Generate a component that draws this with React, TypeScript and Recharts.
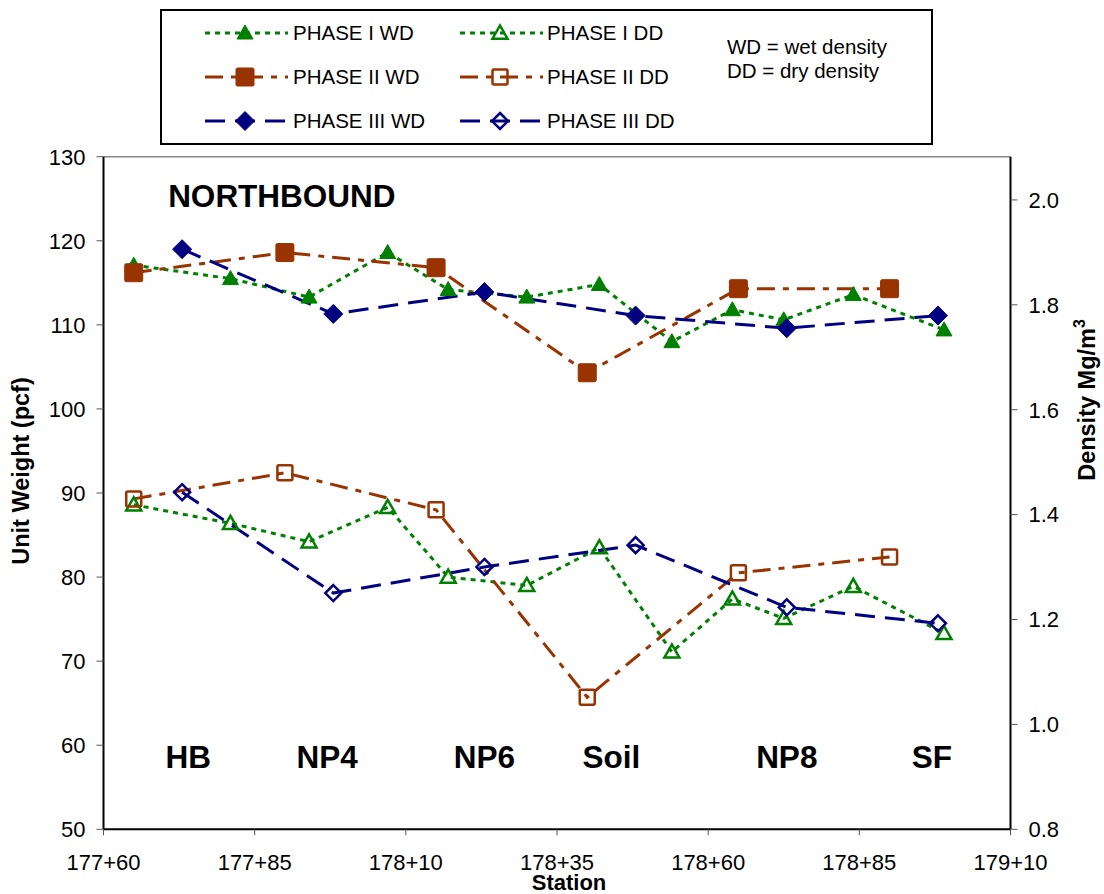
import { LineChart, Line, XAxis, YAxis, ReferenceLine, ReferenceDot, Label } from 'recharts';

// stations in feet (177+60 = 17760)
const STATIONS_I = [17765, 17781, 17794, 17807, 17817, 17830, 17842, 17854, 17864, 17872.5, 17884, 17899];
const PHASE1_WD = [117.1, 115.5, 113.3, 118.6, 114.2, 113.3, 114.8, 108.0, 111.8, 110.6, 113.6, 109.4];
const PHASE1_DD = [88.6, 86.4, 84.2, 88.3, 80.0, 79.0, 83.5, 71.1, 77.4, 75.1, 78.9, 73.3];

const STATIONS_II = [17765, 17790, 17815, 17840, 17865, 17890];
const PHASE2_WD = [116.2, 118.6, 116.8, 104.3, 114.3, 114.3];
const PHASE2_DD = [89.3, 92.4, 88.0, 65.7, 80.5, 82.4];

const STATIONS_III = [17773, 17798, 17823, 17848, 17873, 17898];
const PHASE3_WD = [119.0, 111.3, 113.9, 111.1, 109.6, 111.1];
const PHASE3_DD = [90.1, 78.1, 81.2, 83.8, 76.4, 74.5];

const X_TICKS = [17760, 17785, 17810, 17835, 17860, 17885, 17910];
const Y_TICKS = [50, 60, 70, 80, 90, 100, 110, 120, 130];
const DENSITY_TICKS = [0.8, 1.0, 1.2, 1.4, 1.6, 1.8, 2.0];
const PCF_PER_MGM3 = 62.428;

const ZONE_NAMES = ['HB', 'NP4', 'NP6', 'Soil', 'NP8', 'SF'];
const ZONE_STATIONS = [17774, 17797, 17823, 17844, 17873, 17897];

const GREEN = '#008000';
const BROWN = '#993300';
const NAVY = '#000080';
const FONT = 'Liberation Sans, Arial, sans-serif';

const DASH_I = '5 5';
const DASH_II = '18 8 6 8';
const DASH_III = '20 10';

type Kind = 'tri' | 'sq' | 'dia';

function Marker({ kind, filled, color, cx, cy }: { kind: Kind; filled: boolean; color: string; cx: number; cy: number }) {
  const fill = filled ? color : 'none';
  const sw = filled ? 1 : 2.5;
  if (kind === 'tri') {
    const s = filled ? 8 : 7.5;
    return <polygon points={`${cx},${cy - s} ${cx + s},${cy + s * 0.75} ${cx - s},${cy + s * 0.75}`} fill={fill} stroke={color} strokeWidth={sw} />;
  }
  if (kind === 'sq') {
    const s = filled ? 9 : 7.5;
    return <rect x={cx - s} y={cy - s} width={s * 2} height={s * 2} rx={1.5} fill={fill} stroke={color} strokeWidth={sw} />;
  }
  const s = filled ? 9.5 : 8;
  return <polygon points={`${cx},${cy - s} ${cx + s},${cy} ${cx},${cy + s} ${cx - s},${cy}`} fill={fill} stroke={color} strokeWidth={sw} />;
}

const dotFor = (kind: Kind, filled: boolean, color: string) => (p: any) => (
  <Marker key={`${kind}-${filled}-${p.index}`} kind={kind} filled={filled} color={color} cx={p.cx} cy={p.cy} />
);

const toRows = (xs: number[], ys: number[]) => xs.map((x, i) => ({ station: x, value: ys[i] }));

const SERIES = [
  { name: 'PHASE I WD', data: toRows(STATIONS_I, PHASE1_WD), color: GREEN, dash: DASH_I, kind: 'tri' as Kind, filled: true },
  { name: 'PHASE I DD', data: toRows(STATIONS_I, PHASE1_DD), color: GREEN, dash: DASH_I, kind: 'tri' as Kind, filled: false },
  { name: 'PHASE II WD', data: toRows(STATIONS_II, PHASE2_WD), color: BROWN, dash: DASH_II, kind: 'sq' as Kind, filled: true },
  { name: 'PHASE II DD', data: toRows(STATIONS_II, PHASE2_DD), color: BROWN, dash: DASH_II, kind: 'sq' as Kind, filled: false },
  { name: 'PHASE III WD', data: toRows(STATIONS_III, PHASE3_WD), color: NAVY, dash: DASH_III, kind: 'dia' as Kind, filled: true },
  { name: 'PHASE III DD', data: toRows(STATIONS_III, PHASE3_DD), color: NAVY, dash: DASH_III, kind: 'dia' as Kind, filled: false },
];

// same readings in Mg/m3, only to give the secondary axis something to scale
const DENSITY_ROWS = STATIONS_I.map((x, i) => ({ station: x, density: PHASE1_WD[i] / PCF_PER_MGM3 }));

const fmtStation = (s: number) => `${Math.floor(s / 100)}+${String(s % 100).padStart(2, '0')}`;

function LegendBox() {
  const rows = [33, 77, 121];
  const cols = [{ l: 46, m: 86, t: 134 }, { l: 301, m: 341, t: 388 }];
  return (
    <svg width={775} height={138} style={{ position: 'absolute', left: 159, top: 8 }}>
      <rect x={2} y={2} width={771} height={134} fill="#fff" stroke="#000" strokeWidth={2} />
      {SERIES.map((s, i) => {
        const c = cols[i % 2];
        const y = rows[Math.floor(i / 2)] - 8;
        return (
          <g key={s.name}>
            <line x1={c.l} x2={c.l + 83} y1={y} y2={y} stroke={s.color} strokeWidth={3} strokeDasharray={s.dash} />
            <Marker kind={s.kind} filled={s.filled} color={s.color} cx={c.m} cy={y} />
            <text x={c.t} y={y} dy="0.36em" fontSize={20.5} fontFamily={FONT} fill="#000">{s.name}</text>
          </g>
        );
      })}
      <text x={568} y={39} dy="0.36em" fontSize={20.5} fontFamily={FONT} fill="#000">WD = wet density</text>
      <text x={568} y={63} dy="0.36em" fontSize={20.5} fontFamily={FONT} fill="#000">DD = dry density</text>
    </svg>
  );
}

const LeftTitle = (props: any) => {
  const { x, y, height } = props.viewBox;
  const cx = x + 21;
  const cy = y + height / 2 - 22;
  return (
    <text x={cx} y={cy} transform={`rotate(-90 ${cx} ${cy})`} textAnchor="middle" dy="0.36em" fontSize={23.5} fontWeight="bold" fontFamily={FONT} fill="#000">
      Unit Weight (pcf)
    </text>
  );
};

const RightTitle = (props: any) => {
  const { x, y, height } = props.viewBox;
  const cx = x + 76;
  const cy = y + height / 2 - 93;
  return (
    <text x={cx} y={cy} transform={`rotate(-90 ${cx} ${cy})`} textAnchor="middle" dy="0.36em" fontSize={23.5} fontWeight="bold" fontFamily={FONT} fill="#000">
      Density Mg/m<tspan dy="-0.6em" fontSize={16}>3</tspan>
    </text>
  );
};

const BottomTitle = (props: any) => {
  const { x, y, width } = props.viewBox;
  return (
    <text x={x + width / 2 + 12} y={y + 53} textAnchor="middle" dy="0.36em" fontSize={22} fontWeight="bold" fontFamily={FONT} fill="#000">
      Station
    </text>
  );
};

const tickStyle = { fontSize: 22, fontFamily: FONT, fill: '#000' };
const zoneLabel = (text: string) => ({ value: text, position: 'center' as const, fontSize: 31.5, fontWeight: 'bold', fontFamily: FONT, fill: '#000' });

export default function App() {
  return (
    <div style={{ position: 'absolute', left: 0, top: 0, width: 1104, height: 894, background: '#fff' }}>
      <LineChart width={1104} height={894} margin={{ top: 156.7, right: 0, bottom: 0, left: 0 }}>
        <XAxis
          dataKey="station"
          type="number"
          domain={[17760, 17910]}
          ticks={X_TICKS}
          tickFormatter={fmtStation}
          height={64.7}
          tick={tickStyle}
          tickSize={6}
          tickMargin={19}
          axisLine={{ stroke: '#000', strokeWidth: 2 }}
          tickLine={{ stroke: '#555' }}
          allowDuplicatedCategory={false}
        >
          <Label content={BottomTitle} />
        </XAxis>
        <YAxis
          yAxisId="left"
          type="number"
          domain={[50, 130]}
          ticks={Y_TICKS}
          width={103.5}
          tick={tickStyle}
          tickSize={7}
          tickMargin={11}
          axisLine={{ stroke: '#000', strokeWidth: 2 }}
          tickLine={{ stroke: '#555' }}
        >
          <Label content={LeftTitle} />
        </YAxis>
        <YAxis
          yAxisId="right"
          orientation="right"
          type="number"
          domain={[0.8, 130 / PCF_PER_MGM3]}
          allowDataOverflow
          ticks={DENSITY_TICKS}
          tickFormatter={(v: number) => v.toFixed(1)}
          width={93.5}
          tick={tickStyle}
          tickSize={7}
          tickMargin={11}
          axisLine={{ stroke: '#000', strokeWidth: 2 }}
          tickLine={{ stroke: '#555' }}
        >
          <Label content={RightTitle} />
        </YAxis>
        <ReferenceLine yAxisId="left" y={130} stroke="#888" strokeWidth={1.5} />
        <Line
          yAxisId="right"
          data={DENSITY_ROWS}
          dataKey="density"
          stroke="none"
          dot={false}
          activeDot={false}
          legendType="none"
          isAnimationActive={false}
        />
        {SERIES.map((s) => (
          <Line
            key={s.name}
            yAxisId="left"
            data={s.data}
            dataKey="value"
            name={s.name}
            stroke={s.color}
            strokeWidth={3}
            strokeDasharray={s.dash}
            dot={dotFor(s.kind, s.filled, s.color)}
            activeDot={false}
            isAnimationActive={false}
          />
        ))}
        <ReferenceDot yAxisId="left" x={17789.5} y={125.4} r={0} stroke="none" fill="none" label={zoneLabel('NORTHBOUND')} />
        {ZONE_NAMES.map((n, i) => (
          <ReferenceDot key={n} yAxisId="left" x={ZONE_STATIONS[i]} y={58.6} r={0} stroke="none" fill="none" label={zoneLabel(n)} />
        ))}
      </LineChart>
      <LegendBox />
    </div>
  );
}
